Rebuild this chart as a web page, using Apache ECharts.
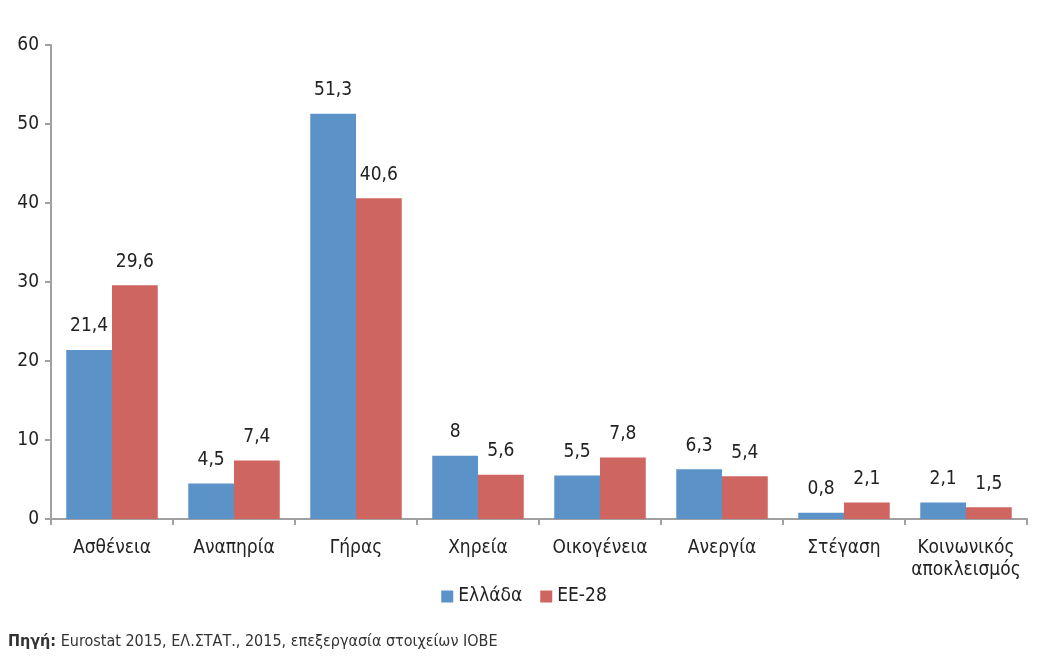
<!DOCTYPE html>
<html>
<head>
<meta charset="utf-8">
<script src="https://cdn.jsdelivr.net/npm/echarts@6/dist/echarts.min.js"></script>
<style>
  html, body { margin: 0; padding: 0; background: #fff; }
  #chart { width: 1048px; height: 661px; }
</style>
</head>
<body>
<div id="chart"></div>
<script>
const categories = ['Ασθένεια', 'Αναπηρία', 'Γήρας', 'Χηρεία', 'Οικογένεια', 'Ανεργία', 'Στέγαση', 'Κοινωνικός\nαποκλεισμός']
const greece = [21.4, 4.5, 51.3, 8, 5.5, 6.3, 0.8, 2.1]
const eu28 = [29.6, 7.4, 40.6, 5.6, 7.8, 5.4, 2.1, 1.5]
const yTicks = [0, 10, 20, 30, 40, 50, 60]

const FONT = "'Liberation Sans Narrow', 'DejaVu Sans Condensed', sans-serif"

const chart = echarts.init(document.getElementById('chart'))

// ετικέτες με κόμμα
const fmt = p => String(p.value).replace('.', ',')

chart.setOption({
  animation: false,
  textStyle: { fontFamily: FONT },
  grid: { left: 51, right: 21, top: 45, bottom: 142 },
  legend: {
    bottom: 50,
    left: 'center',
    icon: 'rect',
    itemWidth: 12,
    itemHeight: 12,
    itemGap: 18,
    textStyle: { fontFamily: FONT, fontSize: 19, color: '#222' },
    data: ['Ελλάδα', 'ΕΕ-28']
  },
  graphic: [{
    type: 'text',
    left: 8,
    top: 634,
    style: {
      text: '{b|Πηγή:} Eurostat 2015, ΕΛ.ΣΤΑΤ., 2015, επεξεργασία στοιχείων ΙΟΒΕ',
      fontFamily: FONT,
      fontSize: 16,
      fill: '#333',
      rich: { b: { fontWeight: 'bold', fontFamily: FONT, fontSize: 16, fill: '#333' } }
    }
  }],
  xAxis: {
    type: 'category',
    data: categories,
    axisLine: { lineStyle: { color: '#a0a0a0', width: 2 } },
    axisTick: { show: true, interval: 0, length: 6, lineStyle: { color: '#a0a0a0', width: 2 } },
    axisLabel: { interval: 0, fontFamily: FONT, fontSize: 19, color: '#222', margin: 18, lineHeight: 22 }
  },
  yAxis: {
    type: 'value',
    min: 0,
    max: 60,
    interval: 10,
    splitLine: { show: false },
    axisLine: { show: true, lineStyle: { color: '#a0a0a0', width: 2 } },
    axisTick: { show: true, length: 6, lineStyle: { color: '#a0a0a0', width: 2 } },
    axisLabel: {
      fontFamily: FONT, fontSize: 19, color: '#222', margin: 12,
      customValues: yTicks
    }
  },
  series: [
    {
      name: 'Ελλάδα',
      type: 'bar',
      data: greece,
      barGap: '0%',
      barCategoryGap: '25%',
      itemStyle: { color: '#5b93c9' },
      label: { show: true, position: 'top', distance: 14, formatter: fmt, fontFamily: FONT, fontSize: 19, color: '#222' }
    },
    {
      name: 'ΕΕ-28',
      type: 'bar',
      data: eu28,
      itemStyle: { color: '#cf6561' },
      label: { show: true, position: 'top', distance: 14, formatter: fmt, fontFamily: FONT, fontSize: 19, color: '#222' }
    }
  ]
})
</script>
</body>
</html>
